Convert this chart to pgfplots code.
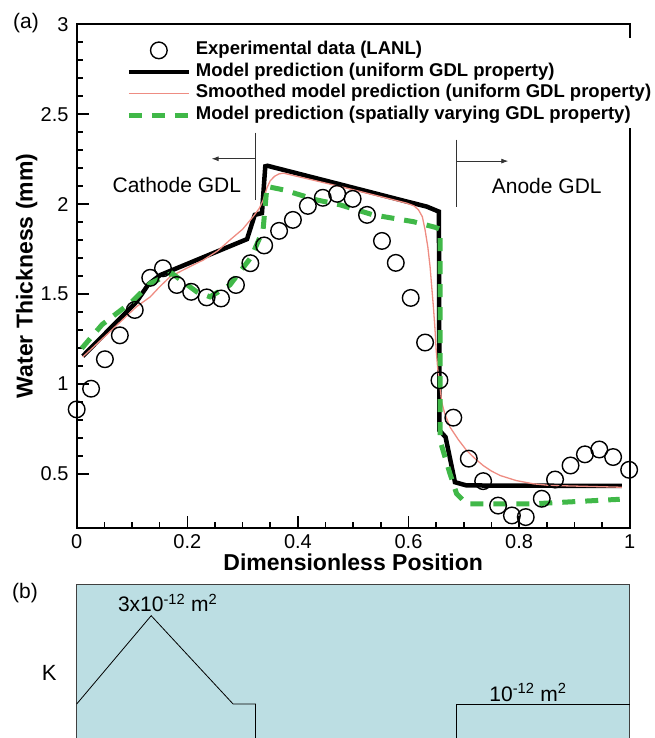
\documentclass[border=0pt]{standalone}
\usepackage{pgfplots}
\pgfplotsset{compat=1.18}
\usetikzlibrary{arrows.meta}
\usepackage{fontspec}
\setmainfont{Liberation Sans}

\definecolor{modelgreen}{RGB}{64,184,72}
\definecolor{smoothpink}{RGB}{238,140,130}
\definecolor{kblue}{RGB}{188,222,227}

\pgfplotsset{
  long line legend/.style={legend image code/.code={\draw[##1] plot coordinates {(0pt,0pt) (30pt,0pt) (60pt,0pt)};}},
  mark legend/.style={legend image code/.code={\draw[mark repeat=2, mark phase=2, ##1] plot coordinates {(0pt,0pt) (30pt,0pt) (60pt,0pt)};}},
}

\begin{document}
\begin{tikzpicture}[x=1pt,y=1pt]
\useasboundingbox (0,0) rectangle (655,738);

% ---------------- (a) water thickness profile ----------------
\begin{axis}[
  at={(76.7pt,210.3pt)}, anchor=south west,
  width=553pt, height=503.4pt, scale only axis,
  xmin=0, xmax=1, ymin=0.2, ymax=3,
  xtick={0,0.2,0.4,0.6,0.8,1}, minor x tick num=3,
  ytick={0.5,1,1.5,2,2.5,3}, minor y tick num=4,
  tick pos=left, tick align=inside,
  major tick length=12pt, minor tick length=6pt,
  every tick/.style={black, line width=1.6pt},
  axis line style={line width=2pt},
  /pgf/number format/assume math mode=true,
  tick label style={font=\fontsize{20}{20}\selectfont},
  xticklabel style={inner sep=0pt, anchor=north, yshift=-7pt},
  yticklabel style={inner sep=0pt, anchor=east, xshift=-8pt},
  xlabel={Dimensionless Position},
  ylabel={Water Thickness (mm)},
  xlabel style={font=\fontsize{23}{24}\selectfont\bfseries, at={(axis description cs:0.5,0)}, anchor=center, yshift=-35pt},
  ylabel style={font=\fontsize{23}{24}\selectfont\bfseries, at={(axis description cs:0,0.5)}, anchor=center, yshift=50pt},
  legend cell align=left,
  legend style={at={(0.0840,0.9740)}, anchor=north west, draw=none, fill=white,
    inner sep=3pt, row sep=2pt, column sep=3pt,
    font=\fontsize{18.5}{19}\selectfont\bfseries,
    nodes={inner sep=1.5pt, text height=12.6pt, text depth=4pt}},
  long line legend,
]

% measured data
\addplot[only marks, mark=o, mark size=8.3pt, black, mark options={line width=1.4pt}, mark legend]
coordinates {
(0.000,0.858) (0.026,0.973) (0.051,1.137) (0.078,1.270) (0.105,1.411)
(0.133,1.590) (0.156,1.643) (0.181,1.550) (0.207,1.512) (0.235,1.481)
(0.261,1.475) (0.288,1.550) (0.314,1.671) (0.339,1.770) (0.366,1.851)
(0.391,1.912) (0.418,1.990) (0.445,2.035) (0.471,2.057) (0.499,2.029)
(0.525,1.940) (0.552,1.795) (0.577,1.673) (0.604,1.478) (0.630,1.230)
(0.656,1.020) (0.681,0.812) (0.709,0.584) (0.735,0.459) (0.762,0.323)
(0.787,0.268) (0.812,0.259) (0.841,0.361) (0.865,0.468) (0.893,0.546)
(0.919,0.608) (0.945,0.635) (0.970,0.593) (0.999,0.522)
};
\addlegendentry{Experimental data (LANL)}

% model, uniform GDL property
\addplot[black, line width=4.5pt, line join=miter] coordinates {
(0.011,1.154) (0.108,1.456) (0.130,1.555) (0.151,1.605) (0.308,1.805)
(0.322,1.940) (0.335,1.950) (0.341,2.210) (0.345,2.213) (0.476,2.110)
(0.597,2.014) (0.633,1.986) (0.655,1.958) (0.656,0.741) (0.667,0.704)
(0.684,0.453) (0.705,0.435) (0.986,0.432)
};
\addlegendentry{Model prediction (uniform GDL property)}

% smoothed model, uniform GDL property
\addplot[smoothpink, line width=1.3pt, line join=round] coordinates {
(0.011,1.150) (0.060,1.290) (0.108,1.429) (0.133,1.484) (0.150,1.540)
(0.169,1.596) (0.200,1.645) (0.229,1.689) (0.255,1.740) (0.277,1.800)
(0.300,1.860) (0.319,1.930) (0.330,1.975) (0.337,2.020) (0.344,2.090)
(0.350,2.130) (0.358,2.155) (0.366,2.168) (0.374,2.172) (0.476,2.098)
(0.597,2.005) (0.610,1.990) (0.618,1.968) (0.625,1.930) (0.630,1.856)
(0.635,1.760) (0.639,1.652) (0.642,1.540) (0.645,1.429) (0.648,1.300)
(0.650,1.190) (0.653,1.080) (0.656,1.010) (0.660,0.900) (0.665,0.840)
(0.675,0.760) (0.690,0.690) (0.705,0.630) (0.720,0.585) (0.735,0.546)
(0.750,0.515) (0.766,0.490) (0.795,0.462) (0.826,0.444) (0.856,0.435)
(0.986,0.425)
};
\addlegendentry{Smoothed model prediction (uniform GDL property)}

% model, spatially varying GDL property
\addplot[modelgreen, line width=5pt, dash pattern=on 13pt off 10pt] coordinates {
(0.009,1.197) (0.046,1.330) (0.100,1.457) (0.133,1.559) (0.172,1.615)
(0.217,1.512) (0.241,1.484) (0.277,1.550) (0.316,1.707) (0.337,1.856)
(0.344,2.098) (0.374,2.079) (0.434,2.023) (0.476,1.996) (0.536,1.940)
(0.609,1.902) (0.648,1.871) (0.657,1.860) (0.657,0.686) (0.675,0.500)
(0.687,0.389) (0.705,0.333) (0.826,0.333) (0.982,0.358)
};
\addlegendentry{Model prediction (spatially varying GDL property)}

% region markers
\draw[line width=0.8pt, black!80] (axis cs:0.3225,2.397) -- (axis cs:0.3225,2.023);
\draw[line width=0.8pt, black!80, -{Latex[length=7pt,width=5pt]}] (axis cs:0.3225,2.252) -- (axis cs:0.244,2.252);
\draw[line width=0.8pt, black!80] (axis cs:0.687,2.358) -- (axis cs:0.687,1.986);
\draw[line width=0.8pt, black!80, -{Latex[length=7pt,width=5pt]}] (axis cs:0.687,2.239) -- (axis cs:0.7805,2.239);
\node[font=\fontsize{21}{21}\selectfont] at (axis cs:0.181,2.104) {Cathode GDL};
\node[font=\fontsize{21}{21}\selectfont] at (axis cs:0.850,2.098) {Anode GDL};
\end{axis}

% ---------------- (b) permeability distribution ----------------
\begin{axis}[
  at={(76.7pt,0pt)}, anchor=south west,
  width=553pt, height=154pt, scale only axis,
  xmin=0, xmax=1, ymin=0, ymax=154,
  axis lines=none, clip=false,
]
\addplot[fill=kblue, draw=none] coordinates {(0,0) (0,154) (1,154) (1,0)} -- cycle;
\addplot[line width=0.9pt, black!75] coordinates {(0,0) (0,154) (1,154) (1,0)};
\addplot[line width=0.8pt, black] coordinates {(0,34) (0.1347,122.3) (0.2828,34) (0.3235,34) (0.3235,0)};
\addplot[line width=0.8pt, black] coordinates {(0.687,0) (0.687,34) (1,34)};
\node[font=\fontsize{21}{21}\selectfont, anchor=base] at (axis cs:0.1645,126.3) {3x10\textsuperscript{-12} m\textsuperscript{2}};
\node[font=\fontsize{21}{21}\selectfont, anchor=base] at (axis cs:0.816,36.5) {10\textsuperscript{-12} m\textsuperscript{2}};
\end{axis}

\node[font=\fontsize{21}{21}\selectfont] at (26,715.3) {(a)};
\node[font=\fontsize{21}{21}\selectfont] at (25,145) {(b)};
\node[font=\fontsize{22}{22}\selectfont] at (49.3,64.7) {K};
\end{tikzpicture}
\end{document}
